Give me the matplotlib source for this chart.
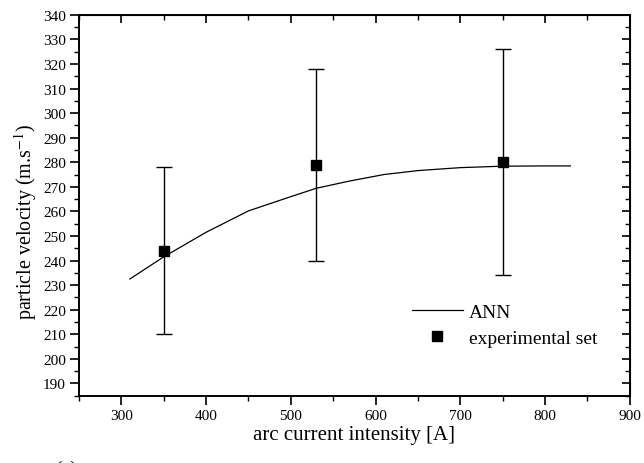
import matplotlib.pyplot as plt
from matplotlib.ticker import MultipleLocator

# experimental points (current [A], velocity [m/s], error half-width)
exp_current = [350, 530, 750]
exp_velocity = [244, 279, 280]
exp_error = [34, 39, 46]

# ANN curve
ann_current = [310, 350, 400, 450, 500, 530, 570, 610, 650, 700, 750, 800, 830]
ann_velocity = [232.5, 241.5, 251.5, 260.2, 266.0, 269.4, 272.4, 275.0, 276.6, 277.8, 278.4, 278.5, 278.5]

plt.rcParams['font.family'] = ['Liberation Serif', 'DejaVu Serif']
plt.rcParams['mathtext.fontset'] = 'stix'

fig = plt.figure(figsize=(6.44, 4.64), dpi=100)
ax = fig.add_axes([0.1227, 0.145, 0.855, 0.821])

ax.plot(ann_current, ann_velocity, color='black', lw=0.9, label='ANN')
ax.errorbar(exp_current, exp_velocity, yerr=exp_error, fmt='none',
            ecolor='black', elinewidth=1.0, capsize=6, capthick=1.0)
ax.plot(exp_current, exp_velocity, ls='none', marker='s', ms=7,
        color='black', label='experimental set')

ax.set_xlim(250, 900)
ax.set_ylim(185, 340)
ax.xaxis.set_major_locator(MultipleLocator(100))
ax.xaxis.set_minor_locator(MultipleLocator(50))
ax.yaxis.set_major_locator(MultipleLocator(10))
ax.yaxis.set_minor_locator(MultipleLocator(5))

ax.tick_params(which='major', direction='out', length=6.5, width=1.2,
               labelsize=11, pad=3)
ax.tick_params(which='minor', direction='out', length=3.5, width=1.0)
for s in ax.spines.values():
    s.set_linewidth(1.4)

# top and right ticks point inward, no labels
top = ax.secondary_xaxis('top')
top.xaxis.set_major_locator(MultipleLocator(100))
top.xaxis.set_minor_locator(MultipleLocator(50))
top.tick_params(which='major', direction='in', length=6, width=1.2, labeltop=False)
top.tick_params(which='minor', direction='in', length=3.5, width=1.0)
right = ax.secondary_yaxis('right')
right.yaxis.set_major_locator(MultipleLocator(10))
right.yaxis.set_minor_locator(MultipleLocator(5))
right.tick_params(which='major', direction='in', length=6, width=1.2, labelright=False)
right.tick_params(which='minor', direction='in', length=3.5, width=1.0)

ax.set_xlabel('arc current intensity [A]', fontsize=15, labelpad=2)
ax.set_ylabel('particle velocity (m.s$^{-1}$)', fontsize=14.5)
ax.yaxis.set_label_coords(-0.072, 0.46)

ax.legend(loc='upper left', bbox_to_anchor=(0.605, 0.243), frameon=False,
          fontsize=14, borderaxespad=0, borderpad=0, handlelength=2.6,
          handletextpad=0.3, labelspacing=0.45)

fig.text(0.085, -0.03, '(a)', fontsize=14, ha='left', va='bottom')

fig.savefig('out.png', dpi=100)
